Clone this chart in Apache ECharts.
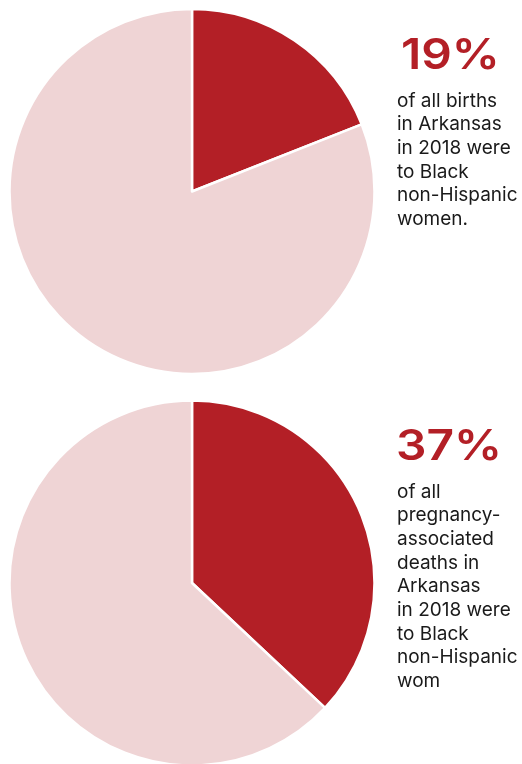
<!DOCTYPE html>
<html>
<head>
<meta charset="utf-8">
<script src="https://cdn.jsdelivr.net/npm/echarts@6/dist/echarts.min.js"></script>
<style>
  html, body { margin: 0; padding: 0; background: #ffffff; }
  #chart { width: 522px; height: 764px; }
</style>
</head>
<body>
<div id="chart"></div>
<script>
// Share of Arkansas births and pregnancy-associated deaths, 2018
const categories = ['Black non-Hispanic women', 'All other'];
const birthsShare = [19, 81];
const deathsShare = [37, 63];

const birthsHeadline = '19%';
const birthsLines = ['of all births', 'in Arkansas', 'in 2018 were', 'to Black', 'non-Hispanic', 'women.'];
const deathsHeadline = '37%';
const deathsLines = ['of all', 'pregnancy-', 'associated', 'deaths in', 'Arkansas', 'in 2018 were', 'to Black', 'non-Hispanic', 'wom'];

const DARK = '#b31f26';
const LIGHT = '#efd4d5';
const FONT = 'Inter, Lato, "DejaVu Sans", sans-serif';

function toData(values) {
  return categories.map((name, i) => ({
    name,
    value: values[i],
    itemStyle: { color: i === 0 ? DARK : LIGHT }
  }));
}

function pieSeries(values, center) {
  return {
    type: 'pie',
    center,
    radius: [0, 182.5],
    startAngle: 90,
    clockwise: true,
    silent: true,
    animation: false,
    label: { show: false },
    labelLine: { show: false },
    itemStyle: { borderColor: '#ffffff', borderWidth: 2.5 },
    data: toData(values)
  };
}

function textBlock(headline, lines, headLeft, headTop, bodyTop) {
  return [{
    type: 'text',
    left: headLeft,
    top: headTop,
    scaleX: 1.14,
    style: { text: headline, font: '600 42px ' + FONT, fill: DARK }
  }, {
    type: 'text',
    left: 397,
    top: bodyTop,
    style: {
      text: lines.join('\n'),
      font: '19px ' + FONT,
      lineHeight: 23.7,
      fill: '#1a1a1a'
    }
  }];
}

const chart = echarts.init(document.getElementById('chart'), null, { renderer: 'canvas' });
chart.setOption({
  backgroundColor: '#ffffff',
  animation: false,
  series: [
    pieSeries(birthsShare, [192, 191.5]),
    pieSeries(deathsShare, [192, 583])
  ],
  graphic: [
    ...textBlock(birthsHeadline, birthsLines, 401, 35, 89),
    ...textBlock(deathsHeadline, deathsLines, 396, 426, 480)
  ]
});
</script>
</body>
</html>
